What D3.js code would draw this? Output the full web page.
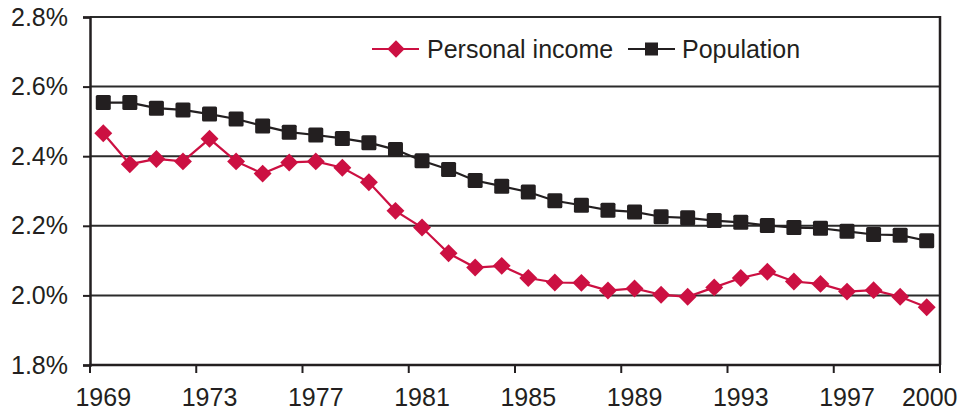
<!DOCTYPE html>
<html>
<head>
<meta charset="utf-8">
<script src="https://cdn.jsdelivr.net/npm/d3@7"></script>
<style>
  html, body { margin: 0; padding: 0; background: #fff; }
  svg { display: block; font-family: "Liberation Sans", Arial, Helvetica, sans-serif; }
</style>
</head>
<body>
<svg id="chart" width="972" height="412"></svg>
<script>
const years = d3.range(1969, 2001).map(String);
const personalIncome = [2.466, 2.377, 2.392, 2.385, 2.450, 2.385, 2.350, 2.382, 2.385, 2.367,
  2.325, 2.243, 2.195, 2.121, 2.080, 2.085, 2.050, 2.037, 2.036, 2.014,
  2.020, 2.002, 1.996, 2.023, 2.050, 2.068, 2.040, 2.033, 2.011, 2.015,
  1.996, 1.966];
const population = [2.554, 2.554, 2.538, 2.533, 2.521, 2.507, 2.487, 2.469, 2.461, 2.451,
  2.439, 2.419, 2.387, 2.362, 2.330, 2.314, 2.297, 2.272, 2.259, 2.245,
  2.240, 2.226, 2.223, 2.215, 2.210, 2.201, 2.195, 2.193, 2.184, 2.175,
  2.173, 2.157];
const yTicks = [1.8, 2.0, 2.2, 2.4, 2.6, 2.8];
const xLabelYears = ["1969", "1973", "1977", "1981", "1985", "1989", "1993", "1997", "2000"];
const seriesNames = ["Personal income", "Population"];

const RED = "#CC1042", BLACK = "#231F20", GRID = "#2b2b2b";
const FS = 25;
const svg = d3.select("#chart");
const mLeft = 90, mRight = 940, mTop = 17, mBottom = 365;

const x = d3.scaleBand().domain(years).range([mLeft, mRight]).paddingInner(0).paddingOuter(0);
const y = d3.scaleLinear().domain([1.8, 2.8]).range([mBottom, mTop]);
const cx = d => x(d) + x.bandwidth() / 2;

// gridlines
svg.append("g").selectAll("line").data(yTicks.slice(1)).join("line")
  .attr("x1", mLeft).attr("x2", mRight)
  .attr("y1", d => y(d)).attr("y2", d => y(d))
  .attr("stroke", GRID).attr("stroke-width", 2);
// right border
svg.append("line").attr("x1", mRight).attr("x2", mRight).attr("y1", mTop - 1).attr("y2", mBottom)
  .attr("stroke", BLACK).attr("stroke-width", 2.5);

// y axis
const yAxis = d3.axisLeft(y).tickValues(yTicks).tickFormat(d => d.toFixed(1) + "%").tickSize(7).tickPadding(15);
const gy = svg.append("g").attr("transform", `translate(${mLeft},0)`).call(yAxis);
gy.select(".domain").attr("stroke", BLACK).attr("stroke-width", 2.5);
gy.selectAll(".tick line").attr("stroke", BLACK).attr("stroke-width", 2);
gy.selectAll(".tick text").attr("font-size", FS).attr("fill", BLACK)
  .attr("font-family", "Liberation Sans, Arial, sans-serif");

// x axis: ticks at every 4th category boundary
const boundaryTicks = d3.range(0, years.length + 1, 4).map(i => mLeft + i * x.bandwidth());
const gx = svg.append("g");
gx.append("line").attr("x1", mLeft - 1).attr("x2", mRight + 1).attr("y1", mBottom).attr("y2", mBottom)
  .attr("stroke", BLACK).attr("stroke-width", 2.5);
gx.selectAll("line.tk").data(boundaryTicks).join("line").attr("class", "tk")
  .attr("x1", d => d).attr("x2", d => d).attr("y1", mBottom).attr("y2", mBottom + 8)
  .attr("stroke", BLACK).attr("stroke-width", 2);
gx.selectAll("text").data(xLabelYears).join("text")
  .attr("x", d => cx(d) + (d === "2000" ? 3 : 0)).attr("y", 406)
  .attr("text-anchor", "middle").attr("font-size", FS).attr("fill", BLACK)
  .text(d => d);

// lines
const lineGen = vals => d3.line().x((d, i) => cx(years[i])).y(d => y(d))(vals);
svg.append("path").attr("d", lineGen(personalIncome)).attr("fill", "none")
  .attr("stroke", RED).attr("stroke-width", 2.2);
svg.append("path").attr("d", lineGen(population)).attr("fill", "none")
  .attr("stroke", BLACK).attr("stroke-width", 2.2);

// markers
const diamond = d3.symbol().type(d3.symbolSquare).size(160);
svg.append("g").selectAll("path").data(personalIncome).join("path")
  .attr("d", diamond)
  .attr("transform", (d, i) => `translate(${cx(years[i])},${y(d)}) rotate(45)`)
  .attr("fill", RED);
svg.append("g").selectAll("rect").data(population).join("rect")
  .attr("x", (d, i) => cx(years[i]) - 7.5).attr("y", d => y(d) - 7.5)
  .attr("width", 15).attr("height", 15).attr("rx", 1.5)
  .attr("fill", BLACK);

// legend
const lg = svg.append("g");
const ly = 49;
lg.append("line").attr("x1", 372).attr("x2", 419).attr("y1", ly).attr("y2", ly).attr("stroke", RED).attr("stroke-width", 2.2);
lg.append("path").attr("d", d3.symbol().type(d3.symbolSquare).size(150)).attr("transform", `translate(396,${ly}) rotate(45)`).attr("fill", RED);
lg.append("text").attr("x", 427).attr("y", ly + 9).attr("font-size", FS).attr("fill", BLACK).text(seriesNames[0]);
lg.append("line").attr("x1", 628).attr("x2", 675).attr("y1", ly).attr("y2", ly).attr("stroke", BLACK).attr("stroke-width", 2.2);
lg.append("rect").attr("x", 645).attr("y", ly - 6.5).attr("width", 13).attr("height", 13).attr("fill", BLACK);
lg.append("text").attr("x", 682).attr("y", ly + 9).attr("font-size", FS).attr("fill", BLACK).text(seriesNames[1]);
</script>
</body>
</html>
